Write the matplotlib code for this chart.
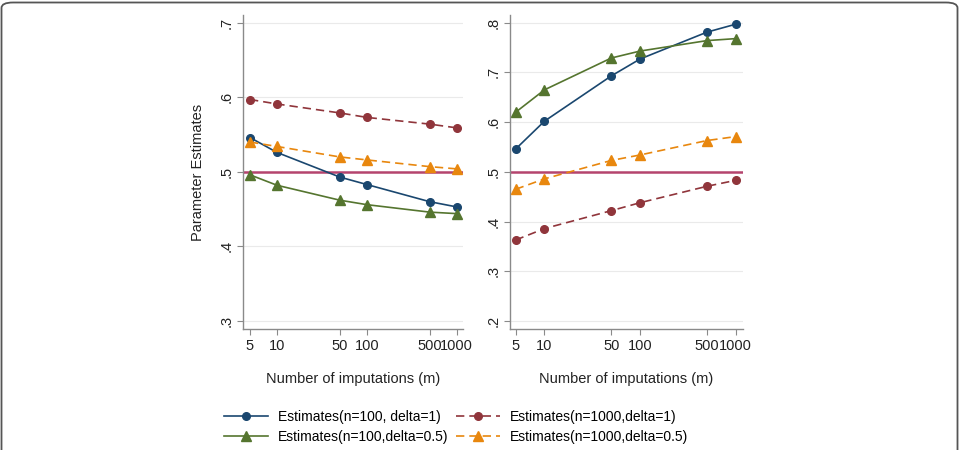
import numpy as np
import matplotlib
matplotlib.use("Agg")
import matplotlib.pyplot as plt
from matplotlib.patches import FancyBboxPatch
from matplotlib.ticker import FixedLocator, NullLocator

plt.rcParams["font.family"] = ["Liberation Sans", "DejaVu Sans"]

# --- data
m = [5, 10, 50, 100, 500, 1000]
m_labels = ["5", "10", "50", "100", "500", "1000"]

# left panel
left_n100_d1 = [0.546, 0.526, 0.493, 0.483, 0.460, 0.453]
left_n1000_d1 = [0.597, 0.591, 0.579, 0.573, 0.564, 0.559]
left_n100_d05 = [0.496, 0.482, 0.462, 0.456, 0.446, 0.444]
left_n1000_d05 = [0.540, 0.534, 0.520, 0.516, 0.507, 0.504]

# right panel
right_n100_d1 = [0.546, 0.602, 0.693, 0.727, 0.781, 0.797]
right_n1000_d1 = [0.363, 0.386, 0.422, 0.438, 0.471, 0.483]
right_n100_d05 = [0.620, 0.665, 0.729, 0.743, 0.764, 0.768]
right_n1000_d05 = [0.465, 0.486, 0.523, 0.534, 0.563, 0.571]

true_value = 0.5
left_yticks = [0.3, 0.4, 0.5, 0.6, 0.7]
right_yticks = [0.2, 0.3, 0.4, 0.5, 0.6, 0.7, 0.8]

labels = ["Estimates(n=100, delta=1)", "Estimates(n=1000,delta=1)",
          "Estimates(n=100,delta=0.5)", "Estimates(n=1000,delta=0.5)"]

c_blue = "#1a476f"
c_red = "#90353b"
c_green = "#55752f"
c_orange = "#e8870e"
c_ref = "#b5446e"

W, H = 961, 450
fig = plt.figure(figsize=(W / 100, H / 100), dpi=100)


def px_axes(x0, y0, x1, y1):
    return fig.add_axes([x0 / W, 1 - y1 / H, (x1 - x0) / W, (y1 - y0) / H])


def draw_panel(ax, series, yticks, ylim, xlim):
    ax.axhline(true_value, color=c_ref, lw=1.8, zorder=2)
    styles = [(c_blue, "-", "o", 5.5), (c_red, (0, (5, 3)), "o", 5.5),
              (c_green, "-", "^", 7), (c_orange, (0, (5, 3)), "^", 7)]
    lines = []
    for vals, (col, ls, mk, ms), lab in zip(series, styles, labels):
        ln, = ax.plot(m, vals, color=col, ls=ls, lw=1.2, marker=mk, ms=ms,
                      label=lab, zorder=3)
        lines.append(ln)
    ax.set_xscale("log")
    ax.set_xlim(*xlim)
    ax.set_ylim(*ylim)
    ax.xaxis.set_major_locator(FixedLocator(m))
    ax.xaxis.set_minor_locator(NullLocator())
    ax.set_xticklabels(m_labels, fontsize=10.5)
    ax.set_yticks(yticks)
    ax.set_yticklabels([("%.1f" % t)[1:] for t in yticks], rotation=90,
                       va="center", fontsize=10.5)
    ax.grid(axis="y", color="#eaeaea", lw=0.8)
    for s in ["top", "right"]:
        ax.spines[s].set_visible(False)
    for s in ["left", "bottom"]:
        ax.spines[s].set_color("#8a8a8a")
        ax.spines[s].set_linewidth(1.0)
    ax.tick_params(length=4, color="#8a8a8a", pad=3, labelcolor="#222222")
    ax.set_xlabel("Number of imputations (m)", fontsize=10.5, labelpad=14,
                  color="#222222")
    return lines


ax1 = px_axes(243, 15, 463, 329)
lines = draw_panel(ax1, [left_n100_d1, left_n1000_d1, left_n100_d05, left_n1000_d05],
                   left_yticks, (0.2893, 0.7103), (4.18, 1175))
ax1.set_ylabel("Parameter Estimates", fontsize=10.5, labelpad=10, color="#222222")

ax2 = px_axes(510, 15, 743, 329)
draw_panel(ax2, [right_n100_d1, right_n1000_d1, right_n100_d05, right_n1000_d05],
           right_yticks, (0.184, 0.8155), (4.36, 1192))

# legend is filled column by column: blue, green | red, orange
order = [0, 2, 1, 3]
leg = fig.legend([lines[i] for i in order], [labels[i] for i in order], ncol=2,
                 loc="center", bbox_to_anchor=(456 / W, 1 - 427 / H),
                 frameon=False, fontsize=10, handlelength=3.2, handletextpad=0.7,
                 columnspacing=0.5, labelspacing=0.45)

# frame around the image
frame = FancyBboxPatch((1.5 / W, -0.2), 956 / W, 0.2 + (H - 2.5) / H,
                       boxstyle="round,pad=0,rounding_size=0.012",
                       transform=fig.transFigure, fill=False, ec="#555555", lw=1.3,
                       clip_on=False)
fig.add_artist(frame)

fig.savefig("out.png", dpi=100)
